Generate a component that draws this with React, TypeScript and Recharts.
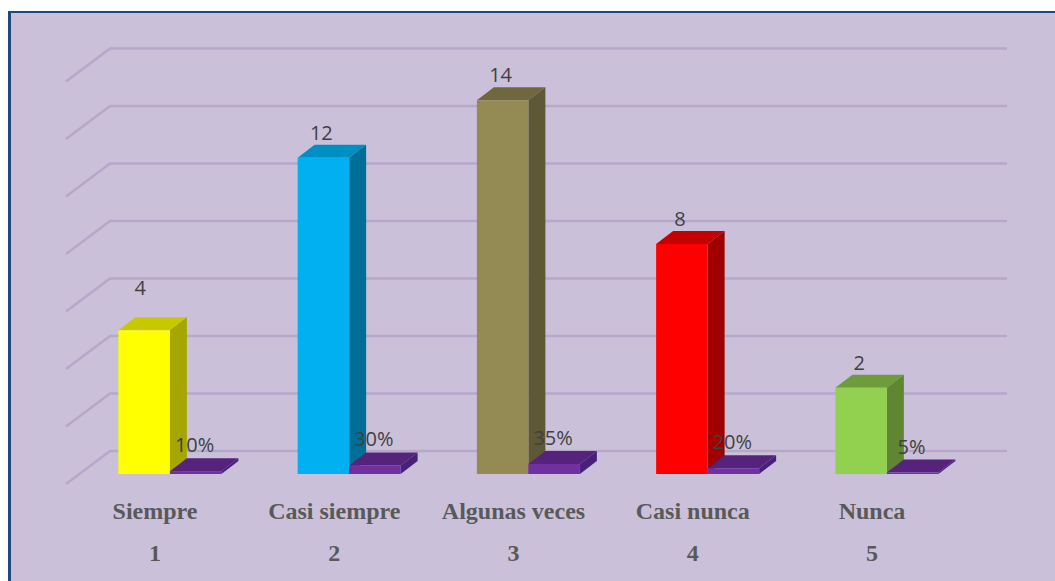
import { BarChart, Bar, XAxis, YAxis, ReferenceLine, LabelList } from 'recharts';

const categories = ['Siempre', 'Casi siempre', 'Algunas veces', 'Casi nunca', 'Nunca'];
const rowNumbers = ['1', '2', '3', '4', '5'];
// printed counts do not follow the drawn column heights in the original, so both are kept
const printedCounts = [4, 12, 14, 8, 2];
const columnHeights = [5, 11, 13, 8, 3];
const percents = [10, 30, 35, 20, 5];
const wallTicks = [0, 2, 4, 6, 8, 10, 12, 14];

const columnFront = ['#FFFF00', '#00B0F0', '#948A54', '#FF0000', '#92D050'];
const columnTop = ['#C8C800', '#008FC3', '#6F683F', '#C40000', '#6E9C3C'];
const columnSide = ['#A6A600', '#006F98', '#5E5836', '#A00000', '#5F8732'];

const data = categories.map((name, i) => ({
  name,
  row: rowNumbers[i],
  count: printedCounts[i],
  height: columnHeights[i],
  percent: percents[i],
  share: percents[i] / 100,
}));

const DEPTH_X = 17;
const DEPTH_Y = 13;

const box = (
  { x, y, width, height }: any,
  front: string,
  top: string,
  side: string,
) => (
  <g>
    <polygon
      points={`${x},${y} ${x + DEPTH_X},${y - DEPTH_Y} ${x + width + DEPTH_X},${y - DEPTH_Y} ${x + width},${y}`}
      fill={top}
    />
    <polygon
      points={`${x + width},${y} ${x + width + DEPTH_X},${y - DEPTH_Y} ${x + width + DEPTH_X},${y + height - DEPTH_Y} ${x + width},${y + height}`}
      fill={side}
    />
    <rect x={x} y={y} width={width} height={height} fill={front} />
  </g>
);

const Column = (props: any) =>
  box(props, columnFront[props.index], columnTop[props.index], columnSide[props.index]);

const Slab = (props: any) => box(props, '#7030A0', '#55237B', '#47207A');

const WallLine = (props: any) => {
  const y = props.y1 - 23;
  return (
    <path
      d={`M66 ${y + 33} L110 ${y} L1007 ${y}`}
      fill="none"
      stroke="#B7A7CB"
      strokeWidth={2.5}
    />
  );
};

const labelStyle = { fontFamily: 'Open Sans', fontSize: 20, fill: '#404040' };

const CountLabel = (props: any) => {
  // the first label sits higher and further left in the original
  const first = props.index === 0;
  return (
    <text
      x={props.x + props.width / 2 - (first ? 4 : 2)}
      y={props.y - (first ? 35 : 18)}
      textAnchor="middle"
      {...labelStyle}
    >
      {props.value}
    </text>
  );
};

const PercentLabel = (props: any) => (
  <text
    x={props.x + props.width / 2 - 1}
    y={props.y - 19}
    textAnchor="middle"
    {...labelStyle}
  >
    {props.value}%
  </text>
);

const axisText = {
  fontFamily: 'Liberation Serif',
  fontSize: 24,
  fontWeight: 700,
  fill: '#595959',
};

const NameTick = (props: any) => (
  <text x={props.x - 15} y={519} textAnchor="middle" {...axisText}>
    {props.payload.value}
  </text>
);

const RowTick = (props: any) => (
  <text x={props.x - 15} y={561} textAnchor="middle" {...axisText}>
    {props.payload.value}
  </text>
);

export default function App() {
  return (
    <div style={{ position: 'absolute', left: 0, top: 0, width: 1055, height: 581 }}>
      <div
        style={{
          position: 'absolute',
          left: 8,
          top: 11,
          right: 0,
          bottom: 0,
          background: '#CBC0DA',
          borderLeft: '3px solid #1F497D',
          borderTop: '2px solid #1F497D',
        }}
      />
      <div style={{ position: 'absolute', left: 0, top: 0 }}>
        <BarChart
          width={1055}
          height={581}
          data={data}
          barSize={51.5}
          barGap={0}
          margin={{ top: 14, right: 78.4, bottom: 27, left: 80.4 }}
        >
          <XAxis
            dataKey="name"
            height={40}
            axisLine={false}
            tickLine={false}
            interval={0}
            tick={NameTick}
          />
          <XAxis
            xAxisId="row"
            dataKey="row"
            height={40}
            axisLine={false}
            tickLine={false}
            interval={0}
            tick={RowTick}
          />
          <YAxis
            width={0}
            domain={[0, 16]}
            ticks={wallTicks}
            tick={false}
            axisLine={false}
            tickLine={false}
          />
          {wallTicks.map((v) => (
            <ReferenceLine key={v} y={v} shape={WallLine} zIndex={-50} />
          ))}
          <Bar dataKey="height" shape={Column} isAnimationActive={false}>
            <LabelList dataKey="count" content={CountLabel} />
          </Bar>
          <Bar dataKey="share" shape={Slab} isAnimationActive={false}>
            <LabelList dataKey="percent" content={PercentLabel} />
          </Bar>
        </BarChart>
      </div>
    </div>
  );
}
